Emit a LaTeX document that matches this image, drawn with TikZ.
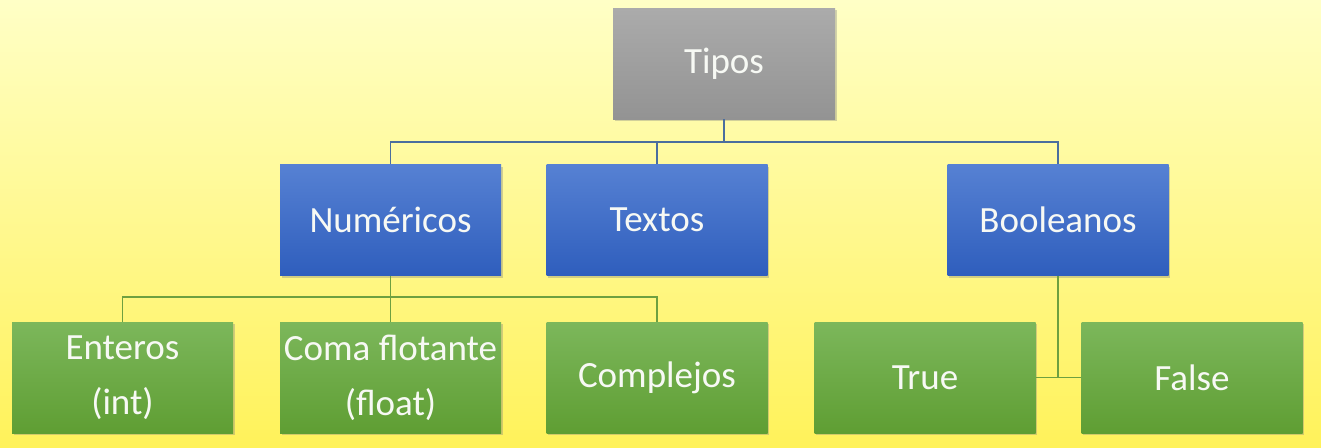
\documentclass[tikz,border=0pt]{standalone}
\usepackage{fontspec}
\setmainfont{Carlito}
\usetikzlibrary{shadows}
\definecolor{bgtop}{HTML}{FFFFC6}
\definecolor{bgbot}{HTML}{FFF25A}
\definecolor{graytop}{HTML}{ABABAB}
\definecolor{graybot}{HTML}{939393}
\definecolor{bluetop}{HTML}{5681D3}
\definecolor{bluebot}{HTML}{2F5EBD}
\definecolor{greentop}{HTML}{7CB75B}
\definecolor{greenbot}{HTML}{5F9E33}
\definecolor{blueline}{HTML}{4A6E9E}
\definecolor{greenline}{HTML}{6EA040}
\definecolor{labeltext}{HTML}{F7F9F4}
\begin{document}
\begin{tikzpicture}[x=1pt,y=-1pt,
  box/.style={rectangle, minimum width=221pt, minimum height=111pt,
    inner sep=0pt, text=labeltext, align=center,
    font=\fontsize{37}{55}\selectfont,
    drop shadow={shadow xshift=1.5pt, shadow yshift=-2pt, opacity=0.35}},
  rootbox/.style={box, top color=graytop, bottom color=graybot},
  catbox/.style={box, top color=bluetop, bottom color=bluebot},
  leafbox/.style={box, top color=greentop, bottom color=greenbot},
  bluelink/.style={draw=blueline, line width=1.4pt},
  greenlink/.style={draw=greenline, line width=1.4pt}]

% page background
\shade[top color=bgtop, bottom color=bgbot] (0,0) rectangle (1321,447);
\useasboundingbox (0,0) rectangle (1321,447);

% root
\node[rootbox, minimum width=222pt] (tipos) at (724,63.5) {Tipos};

% categories
\node[catbox] (num)  at (390.5,220) {Numéricos};
\node[catbox] (txt)  at (657,220)   {Textos};
\node[catbox] (bool) at (1058,220)  {Booleanos};

% leaves
\node[leafbox] (ent)   at (122.5,377.5) {Enteros\\(int)};
\node[leafbox] (coma)  at (390.5,377.5) {Coma flotante\\(float)};
\node[leafbox] (comp)  at (657,377.5)   {Complejos};
\node[leafbox] (true)  at (925,377.5)   {True};
\node[leafbox] (false) at (1192,377.5)  {False};

% junction levels
\coordinate (j1) at (724,142);
\coordinate (j2) at (390.5,297);

% root to categories
\draw[bluelink] (tipos.south) -- (j1);
\draw[bluelink] (num.north) -- (num.north |- j1) -- (bool.north |- j1) -- (bool.north);
\draw[bluelink] (txt.north) -- (txt.north |- j1);

% numeric subtypes
\draw[greenlink] (num.south) -- (coma.north);
\draw[greenlink] (ent.north) -- (ent.north |- j2) -- (comp.north |- j2) -- (comp.north);

% boolean values
\draw[greenlink] (bool.south) -- (bool.south |- true.east);
\draw[greenlink] (true.east) -- (false.west);
\end{tikzpicture}
\end{document}
